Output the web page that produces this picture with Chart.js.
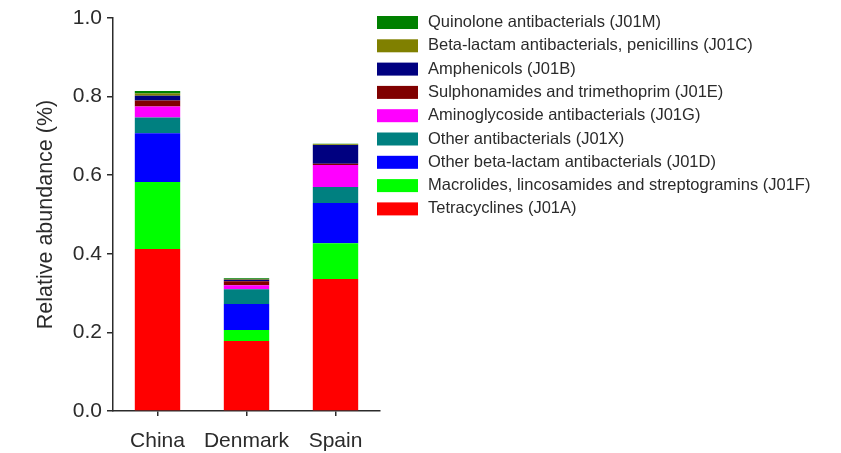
<!DOCTYPE html>
<html>
<head>
<meta charset="utf-8">
<script src="https://cdn.jsdelivr.net/npm/chart.js@4"></script>
<style>
  html, body { margin: 0; padding: 0; background: #fff; }
  #wrap { width: 841px; height: 453px; position: relative; }
</style>
</head>
<body>
<div id="wrap"><canvas id="c" width="841" height="453"></canvas></div>
<script>
// ---- data ----
const categories = ['China', 'Denmark', 'Spain'];
const seriesNames = [
  'Tetracyclines (J01A)',
  'Macrolides, lincosamides and streptogramins (J01F)',
  'Other beta-lactam antibacterials (J01D)',
  'Other antibacterials (J01X)',
  'Aminoglycoside antibacterials (J01G)',
  'Sulphonamides and trimethoprim (J01E)',
  'Amphenicols (J01B)',
  'Beta-lactam antibacterials, penicillins (J01C)',
  'Quinolone antibacterials (J01M)'
];
const tetracyclines = [0.412, 0.178, 0.336];
const macrolides    = [0.171, 0.028, 0.091];
const otherBetaLact = [0.124, 0.066, 0.102];
const otherAntibact = [0.040, 0.038, 0.041];
const aminoglycos   = [0.028, 0.010, 0.056];
const sulphonamides = [0.015, 0.010, 0.003];
const amphenicols   = [0.012, 0.004, 0.048];
const penicillins   = [0.006, 0.002, 0.002];
const quinolones    = [0.006, 0.002, 0.001];
const yTicks = [0.0, 0.2, 0.4, 0.6, 0.8, 1.0];

const seriesValues = [tetracyclines, macrolides, otherBetaLact, otherAntibact,
  aminoglycos, sulphonamides, amphenicols, penicillins, quinolones];
const seriesColors = ['#ff0000', '#00ff00', '#0000ff', '#008080',
  '#ff00ff', '#800000', '#000080', '#808000', '#008000'];

const FONT = "'Liberation Sans', Arial, Helvetica, sans-serif";
const INK = '#2b2b2b';

const legendPlugin = {
  id: 'sideLegend',
  afterDraw(chart) {
    const ctx = chart.ctx;
    ctx.save();
    ctx.font = '16.5px ' + FONT;
    ctx.textBaseline = 'middle';
    ctx.textAlign = 'left';
    const n = chart.data.datasets.length;
    for (let i = 0; i < n; i++) {
      const ds = chart.data.datasets[n - 1 - i];
      const cy = 22.5 + i * 23.3;
      ctx.fillStyle = ds.backgroundColor;
      ctx.fillRect(377, cy - 6.5, 41, 13);
      ctx.fillStyle = INK;
      ctx.fillText(ds.label, 428, cy);
    }
    ctx.restore();
  }
};

new Chart(document.getElementById('c'), {
  type: 'bar',
  data: {
    labels: categories,
    datasets: seriesNames.map((name, i) => ({
      label: name,
      data: seriesValues[i],
      backgroundColor: seriesColors[i],
      borderWidth: 0,
      barPercentage: 0.51,
      categoryPercentage: 1.0
    }))
  },
  options: {
    responsive: false,
    animation: false,
    layout: { padding: { left: 0, right: 461, top: 18, bottom: 0 } },
    plugins: { legend: { display: false }, tooltip: { enabled: false } },
    scales: {
      x: {
        stacked: true,
        grid: { display: true, drawOnChartArea: false, drawTicks: true, tickLength: 5, offset: false, color: INK, lineWidth: 1.5 },
        border: { display: true, color: INK, width: 1.5 },
        ticks: { color: INK, font: { family: FONT, size: 21 }, padding: 13, maxRotation: 0 },
        afterFit: s => { s.height = 42; }
      },
      y: {
        stacked: true,
        min: 0, max: 1,
        afterBuildTicks: s => { s.ticks = yTicks.map(v => ({ value: v })); },
        grid: { display: true, drawOnChartArea: false, drawTicks: true, tickLength: 6, color: INK, lineWidth: 1.5 },
        border: { display: true, color: INK, width: 1.5 },
        ticks: { color: INK, font: { family: FONT, size: 21 }, padding: 5,
          callback: v => Number(v).toFixed(1) },
        title: { display: true, text: 'Relative abundance (%)', color: INK,
          font: { family: FONT, size: 21.5 }, padding: { top: 33, bottom: 0 } },
        afterFit: s => { s.width = 113; }
      }
    }
  },
  plugins: [legendPlugin]
});
</script>
</body>
</html>
